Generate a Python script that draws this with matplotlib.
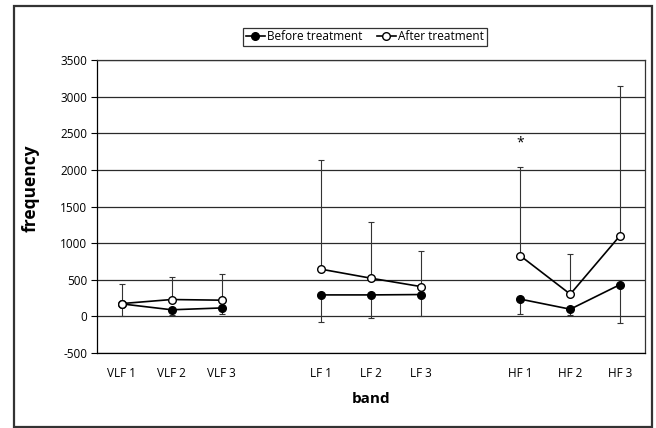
import matplotlib
matplotlib.use("Agg")
import matplotlib.pyplot as plt
import numpy as np
from matplotlib.patches import Rectangle

plt.rcParams["font.family"] = ["Open Sans", "DejaVu Sans"]

# categories (blank slots separate the three bands)
categories = ["VLF 1", "VLF 2", "VLF 3", "", "LF 1", "LF 2", "LF 3", "",
              "HF 1", "HF 2", "HF 3"]

# values for the non-blank categories
before = [170, 90, 115, 293, 293, 298, 235, 98, 434]
before_err = [159, 74, 81, 368, 318, 287, 205, 78, 527]   # drawn downward
after = [175, 230, 221, 644, 521, 407, 826, 303, 1103]
after_err = [265, 313, 364, 1493, 773, 491, 1211, 550, 2044]  # drawn upward

groups = [[0, 1, 2], [4, 5, 6], [8, 9, 10]]
star_idx, star_val = 8, 2365

yticks = np.arange(-500, 3501, 500)


def main() -> None:
    fig = plt.figure(figsize=(6.56, 4.28), dpi=100)
    fig.patches.append(Rectangle((14 / 656, 1 - 427 / 428), 638 / 656, 421 / 428,
                                 transform=fig.transFigure, fill=False,
                                 edgecolor="#333333", linewidth=1.6))
    ax = fig.add_axes([97 / 656, 75 / 428, 548 / 656, 293 / 428])

    for y in yticks:
        ax.axhline(y, color="#2a2a2a", linewidth=0.9, zorder=1)

    k = 0
    for grp in groups:
        n = len(grp)
        b = before[k:k + n]
        be = before_err[k:k + n]
        a = after[k:k + n]
        ae = after_err[k:k + n]
        ax.errorbar(grp, b, yerr=[be, [0] * n], fmt="none", ecolor="#333333",
                    elinewidth=0.8, capsize=2, capthick=0.8, zorder=2)
        ax.errorbar(grp, a, yerr=[[0] * n, ae], fmt="none", ecolor="#333333",
                    elinewidth=0.8, capsize=2, capthick=0.8, zorder=2)
        l1, = ax.plot(grp, b, "-o", color="black", markerfacecolor="black",
                      markersize=5.5, linewidth=1.2, zorder=3)
        l2, = ax.plot(grp, a, "-o", color="black", markerfacecolor="white",
                      markersize=5.5, linewidth=1.2, zorder=4)
        k += n

    ax.text(star_idx, star_val, "*", ha="center", va="center", fontsize=10)

    ax.set_xlim(-0.5, len(categories) - 0.5)
    ax.set_ylim(-500, 3500)
    ax.set_yticks(yticks)
    ax.set_yticklabels([str(v) for v in yticks], fontsize=8.5)
    ax.set_xticks(range(len(categories)))
    ax.set_xticklabels(categories, fontsize=8.5)
    ax.tick_params(axis="x", length=0, pad=10)
    ax.tick_params(axis="y", length=4, width=0.8, pad=3)
    for s in ax.spines.values():
        s.set_linewidth(0.9)
        s.set_color("#333333")
    ax.spines["left"].set_color("black")
    ax.spines["bottom"].set_color("black")

    fig.text(31 / 656, 1 - 188 / 428, "frequency", rotation=90, ha="center",
             va="center", fontsize=12.5, fontweight="bold")
    fig.text(371 / 656, 1 - 399 / 428, "band", ha="center", va="center",
             fontsize=11, fontweight="bold")

    leg = fig.legend([l1, l2], ["Before treatment", "After treatment"],
                     loc="center", bbox_to_anchor=(365 / 656, 1 - 37 / 428),
                     ncol=2, fontsize=8.5, frameon=True, fancybox=False,
                     edgecolor="black", handlelength=1.6, handletextpad=0.2,
                     columnspacing=1.2, borderpad=0.25, markerscale=1.0)
    leg.get_frame().set_linewidth(0.9)

    fig.savefig("out.png", dpi=100)
    plt.close(fig)


if __name__ == "__main__":
    main()
